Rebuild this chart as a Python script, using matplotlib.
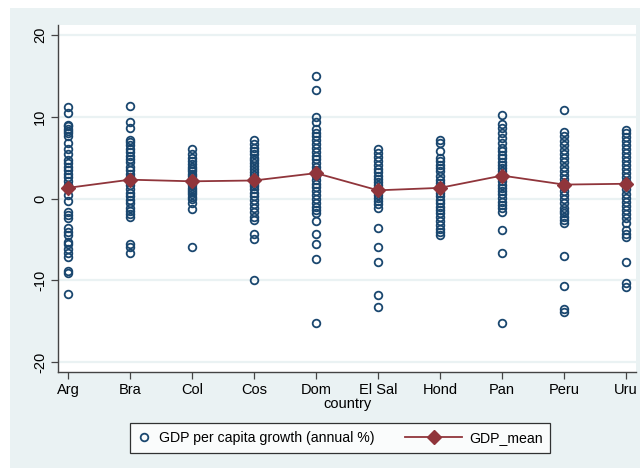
import numpy as np
import matplotlib
matplotlib.use("Agg")
import matplotlib.pyplot as plt
from matplotlib.patches import Rectangle
from matplotlib.lines import Line2D
from matplotlib.legend_handler import HandlerLine2D

plt.rcParams['font.family'] = ['Liberation Sans', 'DejaVu Sans']

countries = ["Arg", "Bra", "Col", "Cos", "Dom", "El Sal", "Hond", "Pan", "Peru", "Uru"]

# GDP per capita growth (annual %) by country
arg = [11.2, 10.5, 9.0, 8.8, 8.5, 8.3, 8.0, 7.6, 6.8, 6.1, 5.4, 4.7, 4.3, 3.9, 3.5, 3.0,
       2.6, 2.1, 1.6, 1.1, 0.4, -0.3, -1.6, -2.0, -2.4, -3.6, -4.1, -4.4, -5.3, -5.6,
       -6.2, -6.6, -7.1, -8.8, -9.1, -11.7]
bra = [11.3, 9.4, 8.6, 7.2, 6.9, 6.5, 6.1, 5.7, 5.2, 4.8, 4.4, 3.9, 3.5, 3.0, 2.6, 2.0,
       1.6, 1.1, 0.7, 0.3, -0.2, -0.6, -1.1, -1.5, -1.9, -2.2, -5.5, -5.9, -6.6]
col = [6.0, 5.4, 5.0, 4.6, 4.2, 3.9, 3.6, 3.3, 3.0, 2.7, 2.4, 2.2, 1.9, 1.6, 1.3, 1.0,
       0.8, 0.5, 0.2, -0.1, -0.6, -1.3, -5.9]
cos = [7.1, 6.6, 6.2, 5.8, 5.4, 5.0, 4.7, 4.3, 4.0, 3.6, 3.2, 2.9, 2.5, 2.2, 1.8, 1.5,
       1.1, 0.7, 0.3, -0.2, -0.7, -1.2, -1.7, -2.2, -2.6, -4.3, -4.9, -9.9]
dom = [15.0, 13.3, 10.0, 9.3, 8.5, 8.0, 7.6, 7.1, 6.6, 6.2, 5.7, 5.2, 4.8, 4.3, 3.9, 3.5,
       3.2, 2.7, 2.3, 1.8, 1.4, 0.9, 0.4, 0.0, -0.5, -1.0, -1.4, -1.8, -2.7, -4.3, -5.6,
       -7.4, -15.2]
elsal = [6.0, 5.6, 5.1, 4.6, 4.1, 3.6, 3.2, 2.8, 2.4, 2.0, 1.6, 1.2, 0.8, 0.4, 0.1, -0.3,
         -0.7, -1.2, -3.6, -5.9, -7.7, -11.8, -13.3]
hond = [7.2, 6.8, 5.8, 5.0, 4.6, 4.1, 3.7, 3.3, 2.8, 2.3, 1.9, 1.5, 1.1, 0.7, 0.3, -0.2,
        -0.6, -1.0, -1.4, -1.8, -2.2, -2.7, -3.2, -3.7, -4.1, -4.5]
pan = [10.2, 9.1, 8.6, 8.0, 7.4, 6.8, 6.2, 5.8, 5.3, 4.9, 4.5, 4.1, 3.7, 3.3, 2.9, 2.5,
       2.1, 1.7, 1.3, 0.9, 0.5, 0.1, -0.4, -0.8, -1.2, -1.6, -3.9, -6.7, -15.2]
peru = [10.8, 8.1, 7.6, 7.0, 6.5, 5.9, 5.4, 4.9, 4.4, 3.9, 3.4, 2.9, 2.4, 1.9, 1.4, 0.9,
        0.4, -0.1, -0.6, -1.1, -1.5, -1.8, -2.2, -2.6, -3.0, -7.0, -10.7, -13.5, -13.9]
uru = [8.4, 8.0, 7.5, 7.0, 6.5, 6.0, 5.6, 5.1, 4.6, 4.1, 3.6, 3.1, 2.6, 2.1, 1.6, 1.1,
       0.6, 0.1, -0.4, -0.9, -1.4, -1.9, -2.4, -3.0, -3.9, -4.3, -4.7, -7.7, -10.3, -10.8]

gdp_mean = [1.3, 2.3, 2.1, 2.2, 3.1, 1.0, 1.3, 2.8, 1.7, 1.8]

growth = [arg, bra, col, cos, dom, elsal, hond, pan, peru, uru]

navy = "#1A476F"
maroon = "#90353B"
bg = "#EAF2F3"


class LongLine(HandlerLine2D):
    # stretch the line handle to the left, stata-style
    def get_xdata(self, legend, xdescent, ydescent, width, height, fontsize):
        xd, xm = super().get_xdata(legend, xdescent, ydescent, width, height, fontsize)
        return [xd[0] - 3.0 * width, xd[-1]], xm


fig = plt.figure(figsize=(6.4, 4.76), dpi=100, facecolor="white")
# graph region
fig.patches.append(Rectangle((10 / 640, 8 / 476), 1.0, 460 / 476,
                             transform=fig.transFigure, facecolor=bg,
                             edgecolor="none", zorder=-5))

ax = fig.add_axes([58 / 640, 104 / 476, 578 / 640, 347 / 476])
ax.set_zorder(1)
ax.set_facecolor("white")

for i, vals in enumerate(growth):
    ax.plot([i] * len(vals), vals, linestyle="none", marker="o", markersize=5.5,
            markerfacecolor="none", markeredgecolor=navy, markeredgewidth=1.3, zorder=3)

mean_line, = ax.plot(range(len(countries)), gdp_mean, color=maroon, linewidth=1.3, marker="D",
                     markersize=7, markerfacecolor=maroon, markeredgecolor=maroon, zorder=4)

ax.set_xlim(-0.16, 9.16)
ax.set_ylim(-21.2, 21.2)
ax.set_yticks([-20, -10, 0, 10, 20])
ax.set_yticklabels(["-20", "-10", "0", "10", "20"], rotation=90, va="center")
ax.set_xticks(range(len(countries)))
ax.set_xticklabels(countries)
ax.yaxis.grid(True, color=bg, linewidth=1.6, zorder=1)
ax.set_axisbelow(True)

for s in ["top", "right"]:
    ax.spines[s].set_visible(False)
for s in ["left", "bottom"]:
    ax.spines[s].set_color("#444444")
    ax.spines[s].set_linewidth(1.0)
ax.tick_params(axis="both", direction="out", length=5, width=0.9, color="#444444",
               labelsize=10.5, labelcolor="black", pad=3)
ax.set_xlabel("country", fontsize=10.5, labelpad=0)

h_dots = Line2D([], [], linestyle="none", marker="o", markersize=5.5,
                markerfacecolor="none", markeredgecolor=navy, markeredgewidth=1.3)
leg = fig.legend([h_dots, mean_line], ["GDP per capita growth (annual %)", "GDP_mean"],
                 loc="center", bbox_to_anchor=(340 / 640, 1 - 438 / 476), ncol=2,
                 fontsize=10.2, frameon=True, fancybox=False, handlelength=1.0,
                 handletextpad=0.5, columnspacing=5.2, borderpad=0.55,
                 handler_map={mean_line: LongLine(numpoints=1)})
leg.get_frame().set_edgecolor("black")
leg.get_frame().set_linewidth(0.9)
leg.get_frame().set_facecolor("white")

fig.savefig("out.png", dpi=100, facecolor=fig.get_facecolor())
